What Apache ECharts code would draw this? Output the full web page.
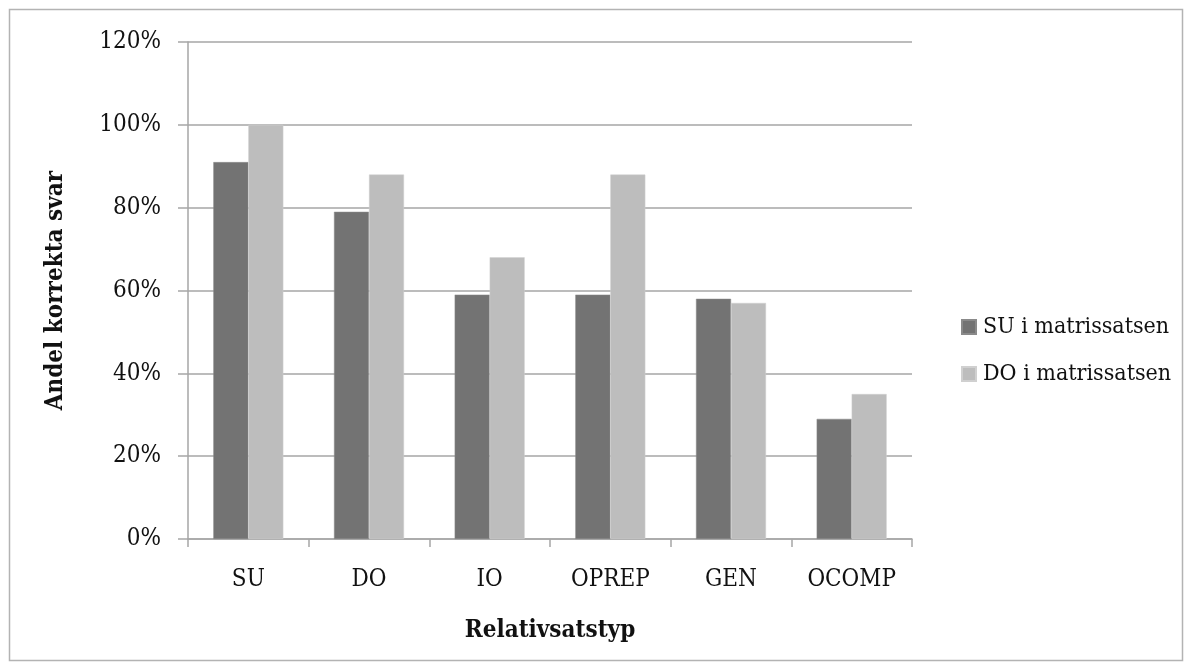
<!DOCTYPE html>
<html><head><meta charset="utf-8">
<script src="https://cdn.jsdelivr.net/npm/echarts@6/dist/echarts.min.js"></script>
<style>html,body{margin:0;padding:0;background:#fff}#c{width:1192px;height:670px}</style>
</head><body><div id="c"></div>
<script>
const categories = ['SU','DO','IO','OPREP','GEN','OCOMP'];
const suValues = [91,79,59,59,58,29];
const doValues = [100,88,68,88,57,35];
const yTicks = [0,20,40,60,80,100,120];
const seriesNames = ['SU i matrissatsen','DO i matrissatsen'];

const font = '"DejaVu Serif Condensed","DejaVu Serif","Liberation Serif",serif';
const chart = echarts.init(document.getElementById('c'));
chart.setOption({
  animation:false,
  backgroundColor:'#fff',
  graphic:[{type:'rect',shape:{x:9.5,y:9.5,width:1173,height:651},style:{fill:'none',stroke:'#b3b3b3',lineWidth:1.5}}],
  grid:{left:188,right:280,top:42,bottom:131},
  legend:{
    orient:'vertical',left:956,top:310,itemGap:23,itemWidth:14,itemHeight:14,
    icon:'rect',
    textStyle:{fontFamily:font,fontSize:23,lineHeight:24,color:'#111',padding:[0,0,0,2]},
    data:seriesNames
  },
  xAxis:{
    type:'category',data:categories,
    name:'Relativsatstyp',nameLocation:'middle',nameGap:80,
    nameTextStyle:{fontFamily:font,fontSize:24,fontWeight:'bold',color:'#111'},
    axisLine:{lineStyle:{color:'#a6a6a6',width:1.5}},
    axisTick:{show:true,length:8,lineStyle:{color:'#a6a6a6',width:1.5}},
    axisLabel:{fontFamily:font,fontSize:24,color:'#111',margin:29}
  },
  yAxis:{
    type:'value',min:0,max:120,interval:20,
    name:'Andel korrekta svar',nameLocation:'middle',nameGap:120,
    nameTextStyle:{fontFamily:font,fontSize:24,fontWeight:'bold',color:'#111'},
    axisLine:{show:true,lineStyle:{color:'#a6a6a6',width:1.5}},
    axisTick:{show:true,length:10,lineStyle:{color:'#a6a6a6',width:1.5}},
    axisLabel:{fontFamily:font,fontSize:24,color:'#111',margin:27,
      formatter:v=>yTicks.includes(v)?v+'%':''},
    splitLine:{lineStyle:{color:'#a6a6a6',width:1.5}}
  },
  series:[
    {name:seriesNames[0],type:'bar',data:suValues,barGap:'0%',barCategoryGap:'42%',
     itemStyle:{color:'#737373',borderColor:'#8a8a8a',borderWidth:0.5}},
    {name:seriesNames[1],type:'bar',data:doValues,barGap:'0%',barCategoryGap:'42%',
     itemStyle:{color:'#bdbdbd',borderColor:'#d0d0d0',borderWidth:0.5}}
  ]
});
</script></body></html>
